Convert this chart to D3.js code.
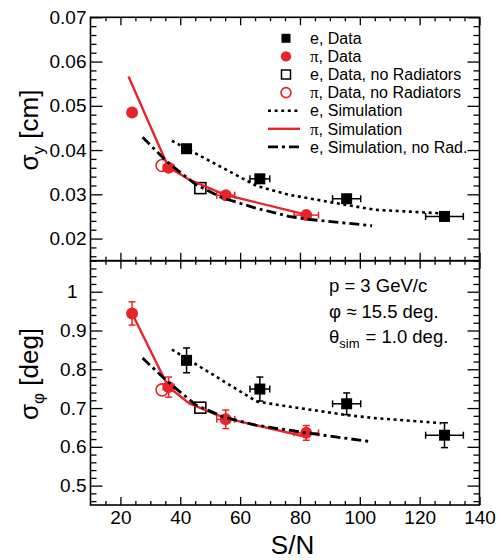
<!DOCTYPE html>
<html><head><meta charset="utf-8">
<script src="https://cdn.jsdelivr.net/npm/d3@7"></script>
<style>
body{margin:0;background:#fff;}
svg text{font-family:"Liberation Sans",Arial,Helvetica,sans-serif;fill:#000;}
</style></head><body>
<svg id="c" width="502" height="560"></svg>
<script>
// ---------------- data ----------------
const xDomain = [10, 140];
const sigYDomain = [0.015, 0.07];
const sigPhiDomain = [0.45, 1.08];
const xMajorTicks = [20, 40, 60, 80, 100, 120, 140];
const sigYMajorTicks = [0.02, 0.03, 0.04, 0.05, 0.06, 0.07];
const sigPhiMajorTicks = [0.5, 0.6, 0.7, 0.8, 0.9, 1.0];

// e, Data
const eX = [42.1, 66.6, 95.6, 128.3];
const eXErr = [1.5, 3.3, 4.7, 6.3];
const eSigY = [0.0403, 0.0335, 0.0290, 0.0250];
const eSigYErr = [0.0003, 0.0003, 0.0003, 0.0003];
const eSigPhi = [0.823, 0.749, 0.711, 0.630];
const eSigPhiErr = [0.032, 0.031, 0.028, 0.032];

// pi, Data
const piX = [23.9, 36.1, 55.2, 82.1];
const piXErr = [1.2, 1.8, 3.0, 4.1];
const piSigY = [0.0485, 0.0360, 0.0298, 0.0253];
const piSigYErr = [0.0003, 0.0003, 0.0003, 0.0003];
const piSigPhi = [0.944, 0.754, 0.671, 0.636];
const piSigPhiErr = [0.030, 0.026, 0.024, 0.019];

// no radiators
const eNoRadX = [46.7];
const eNoRadSigY = [0.0314];
const eNoRadSigPhi = [0.701];
const piNoRadX = [33.9];
const piNoRadSigY = [0.0365];
const piNoRadSigPhi = [0.747];

// e, Simulation
const eSimX = [37.2, 65.5, 76.3, 95.4, 105.2, 127.2];
const eSimSigY = [0.0421, 0.0319, 0.0299, 0.0276, 0.0265, 0.0257];
const eSimSigPhi = [0.851, 0.717, 0.704, 0.682, 0.674, 0.661];

// pi, Simulation
const piSimXTop = [22.7, 36.0, 43.0, 55.0, 82.0];
const piSimSigY = [0.0566, 0.0362, 0.0333, 0.0299, 0.0254];
const piSimXBot = [23.9, 36.0, 43.0, 55.0, 82.0];
const piSimSigPhi = [0.944, 0.755, 0.712, 0.674, 0.626];

// e, Simulation, no Rad.
const eNoRadSimX = [27.4, 35.5, 45.2, 54.1, 65.2, 76.3, 82.0, 104.1];
const eNoRadSimSigY = [0.0429, 0.0374, 0.0322, 0.0292, 0.0269, 0.0250, 0.0244, 0.0229];
const eNoRadSimSigPhi = [0.829, 0.770, 0.708, 0.678, 0.656, 0.643, 0.636, 0.613];

const legendLabels = ["e, Data", "π, Data", "e, Data, no Radiators", "π, Data, no Radiators",
                      "e, Simulation", "π, Simulation", "e, Simulation, no Rad."];
const infoLines = ["p = 3 GeV/c", "φ ≈ 15.5 deg.", "= 1.0 deg."];

// ---------------- layout ----------------
const svg = d3.select("#c");
const xL = 90.5, xR = 479.5, yT = 17.3, yM = 260.7, yB = 505;
const RED = "#e8242b";
const x = d3.scaleLinear().domain(xDomain).range([xL, xR]);
const yTop = d3.scaleLinear().domain(sigYDomain).range([yM, yT]);
const yBot = d3.scaleLinear().domain(sigPhiDomain).range([yB, yM]);

function steps(a, b, s, exclude) {
  return d3.range(Math.round(a / s), Math.round(b / s) + 1)
    .map(k => +(k * s).toFixed(5))
    .filter(v => !exclude.some(e => Math.abs(e - v) < 1e-6));
}
const xMinor = steps(15, 135, 5, xMajorTicks);
const sigYMinor = steps(0.016, 0.068, 0.002, sigYMajorTicks);
const sigPhiMinor = steps(0.46, 1.08, 0.02, sigPhiMajorTicks);

function styleAxis(g, fs) {
  g.select(".domain").remove();
  g.attr("font-family", null).attr("font-size", fs || 19);
  g.selectAll("line").attr("stroke", "#000").attr("stroke-width", 1.3);
}

function panel(y, yTopPx, yBotPx, yMajor, yMinor, yFmt, showXLabels) {
  const g = svg.append("g");
  // y axes
  g.append("g").attr("transform", `translate(${xL},0)`)
    .call(d3.axisLeft(y).tickValues(yMajor).tickSize(-12).tickPadding(4).tickFormat(yFmt))
    .call(a => styleAxis(a));
  g.append("g").attr("transform", `translate(${xL},0)`)
    .call(d3.axisLeft(y).tickValues(yMinor).tickSize(-6).tickFormat(""))
    .call(a => styleAxis(a));
  g.append("g").attr("transform", `translate(${xR},0)`)
    .call(d3.axisRight(y).tickValues(yMajor).tickSize(-12).tickFormat(""))
    .call(a => styleAxis(a));
  g.append("g").attr("transform", `translate(${xR},0)`)
    .call(d3.axisRight(y).tickValues(yMinor).tickSize(-6).tickFormat(""))
    .call(a => styleAxis(a));
  // x axes
  g.append("g").attr("transform", `translate(0,${yBotPx})`)
    .call(d3.axisBottom(x).tickValues(xMajorTicks).tickSize(-8).tickPadding(6)
      .tickFormat(showXLabels ? d3.format("d") : ""))
    .call(a => styleAxis(a));
  g.append("g").attr("transform", `translate(0,${yBotPx})`)
    .call(d3.axisBottom(x).tickValues(xMinor).tickSize(-4).tickFormat(""))
    .call(a => styleAxis(a));
  g.append("g").attr("transform", `translate(0,${yTopPx})`)
    .call(d3.axisTop(x).tickValues(xMajorTicks).tickSize(-8).tickFormat(""))
    .call(a => styleAxis(a));
  g.append("g").attr("transform", `translate(0,${yTopPx})`)
    .call(d3.axisTop(x).tickValues(xMinor).tickSize(-4).tickFormat(""))
    .call(a => styleAxis(a));
  g.append("rect").attr("x", xL).attr("y", yTopPx).attr("width", xR - xL).attr("height", yBotPx - yTopPx)
    .attr("fill", "none").attr("stroke", "#000").attr("stroke-width", 1.6);
  return g;
}

panel(yTop, yT, yM, sigYMajorTicks, sigYMinor, d3.format(".2f"), false);
const gb = panel(yBot, yM, yB, sigPhiMajorTicks, sigPhiMinor, v => Math.abs(v - 1) < 1e-9 ? "1" : d3.format(".1f")(v), true);
// ROOT places the integer label "1" slightly further left
gb.selectAll("text").filter(function () { return d3.select(this).text() === "1"; }).attr("x", -13);

// ---------------- marks ----------------
function errorBars(xs, xe, ys, ye, y, color) {
  const g = svg.append("g").attr("stroke", color).attr("stroke-width", 1.5).attr("fill", "none");
  xs.forEach((v, i) => {
    const cx = x(v), cy = y(ys[i]);
    const x0 = x(v - xe[i]), x1 = x(v + xe[i]);
    const y0 = y(ys[i] - ye[i]), y1 = y(ys[i] + ye[i]);
    g.append("line").attr("x1", x0).attr("x2", x1).attr("y1", cy).attr("y2", cy);
    g.append("line").attr("x1", x0).attr("x2", x0).attr("y1", cy - 3.5).attr("y2", cy + 3.5);
    g.append("line").attr("x1", x1).attr("x2", x1).attr("y1", cy - 3.5).attr("y2", cy + 3.5);
    g.append("line").attr("x1", cx).attr("x2", cx).attr("y1", y0).attr("y2", y1);
    g.append("line").attr("x1", cx - 3.5).attr("x2", cx + 3.5).attr("y1", y0).attr("y2", y0);
    g.append("line").attr("x1", cx - 3.5).attr("x2", cx + 3.5).attr("y1", y1).attr("y2", y1);
  });
}
function squares(xs, ys, y, filled, size) {
  svg.append("g").selectAll("rect").data(xs).join("rect")
    .attr("x", (d) => x(d) - size / 2).attr("y", (d, i) => y(ys[i]) - size / 2)
    .attr("width", size).attr("height", size)
    .attr("fill", filled ? "#000" : "none").attr("stroke", "#000").attr("stroke-width", filled ? 0 : 1.6);
}
function circles(xs, ys, y, filled, r) {
  svg.append("g").selectAll("circle").data(xs).join("circle")
    .attr("cx", d => x(d)).attr("cy", (d, i) => y(ys[i])).attr("r", r)
    .attr("fill", filled ? RED : "none").attr("stroke", RED).attr("stroke-width", filled ? 0 : 1.6);
}
const DOT = { stroke: "#000", w: 2.6, dash: "3,3.6" };
const SOLID = { stroke: RED, w: 2.4, dash: null };
const DASHDOT = { stroke: "#000", w: 2.8, dash: "10,4,3,4" };
function simLine(xs, ys, y, st) {
  const line = d3.line().x(d => x(d[0])).y(d => y(d[1]));
  svg.append("path").datum(xs.map((v, i) => [v, ys[i]])).attr("d", line)
    .attr("fill", "none").attr("stroke", st.stroke).attr("stroke-width", st.w)
    .attr("stroke-dasharray", st.dash);
}

// top panel
errorBars(eX, eXErr, eSigY, eSigYErr, yTop, "#000");
errorBars(piX, piXErr, piSigY, piSigYErr, yTop, RED);
squares(eX, eSigY, yTop, true, 11);
circles(piX, piSigY, yTop, true, 6);
squares(eNoRadX, eNoRadSigY, yTop, false, 11);
circles(piNoRadX, piNoRadSigY, yTop, false, 6);
simLine(eSimX, eSimSigY, yTop, DOT);
simLine(piSimXTop, piSimSigY, yTop, SOLID);
simLine(eNoRadSimX, eNoRadSimSigY, yTop, DASHDOT);

// bottom panel
errorBars(eX, eXErr, eSigPhi, eSigPhiErr, yBot, "#000");
errorBars(piX, piXErr, piSigPhi, piSigPhiErr, yBot, RED);
squares(eX, eSigPhi, yBot, true, 11);
circles(piX, piSigPhi, yBot, true, 6);
squares(eNoRadX, eNoRadSigPhi, yBot, false, 11);
circles(piNoRadX, piNoRadSigPhi, yBot, false, 6);
simLine(eSimX, eSimSigPhi, yBot, DOT);
simLine(piSimXBot, piSimSigPhi, yBot, SOLID);
simLine(eNoRadSimX, eNoRadSimSigPhi, yBot, DASHDOT);

// ---------------- legend ----------------
const lg = svg.append("g");
const lx = 286, ltx = 310;
legendLabels.forEach((lab, i) => {
  const cy = 38.3 + i * 18.1;
  if (i === 0) lg.append("rect").attr("x", lx - 4.5).attr("y", cy - 4.5).attr("width", 9).attr("height", 9).attr("fill", "#000");
  if (i === 1) lg.append("circle").attr("cx", lx).attr("cy", cy).attr("r", 5.2).attr("fill", RED);
  if (i === 2) lg.append("rect").attr("x", lx - 4.5).attr("y", cy - 4.5).attr("width", 9).attr("height", 9).attr("fill", "none").attr("stroke", "#000").attr("stroke-width", 1.5);
  if (i === 3) lg.append("circle").attr("cx", lx).attr("cy", cy).attr("r", 5).attr("fill", "none").attr("stroke", RED).attr("stroke-width", 1.6);
  const st = [null, null, null, null, DOT, SOLID, DASHDOT][i];
  if (st) lg.append("line").attr("x1", 268).attr("x2", 300).attr("y1", cy).attr("y2", cy)
    .attr("stroke", st.stroke).attr("stroke-width", st.w).attr("stroke-dasharray", st.dash);
  const t = lg.append("text").attr("x", ltx).attr("y", cy).attr("dy", "0.36em").attr("font-size", 16);
  if (lab.startsWith("π")) {
    t.append("tspan").style("font-family", "'Liberation Serif',serif").attr("font-size", 17).text("π");
    t.append("tspan").text(lab.slice(1));
  } else t.text(lab);
});

// ---------------- annotation ----------------
svg.append("text").attr("x", 329).attr("y", 291.5).attr("font-size", 18.5).text(infoLines[0]);
svg.append("text").attr("x", 329).attr("y", 318.3).attr("font-size", 18.5).text(infoLines[1]);
const th = svg.append("text").attr("x", 329).attr("y", 342.7).attr("font-size", 18.5);
th.append("tspan").text("θ");
th.append("tspan").attr("font-size", 13).attr("dy", 5).text("sim");
th.append("tspan").attr("dy", -5).attr("dx", 6).text(infoLines[2]);

// ---------------- axis titles ----------------
const t1 = svg.append("text").attr("transform", "translate(37.7,130) rotate(-90)").attr("text-anchor", "middle").attr("font-size", 26);
t1.append("tspan").text("σ");
t1.append("tspan").attr("font-size", 17).attr("dy", 6).text("y");
t1.append("tspan").attr("dy", -6).text(" [cm]");
const t2 = svg.append("text").attr("transform", "translate(37.7,374) rotate(-90)").attr("text-anchor", "middle").attr("font-size", 26);
t2.append("tspan").text("σ");
t2.append("tspan").attr("font-size", 17).attr("dy", 6).text("φ");
t2.append("tspan").attr("dy", -6).text(" [deg]");
svg.append("text").attr("x", 292.5).attr("y", 554).attr("text-anchor", "middle").attr("font-size", 26).text("S/N");
</script></body></html>
